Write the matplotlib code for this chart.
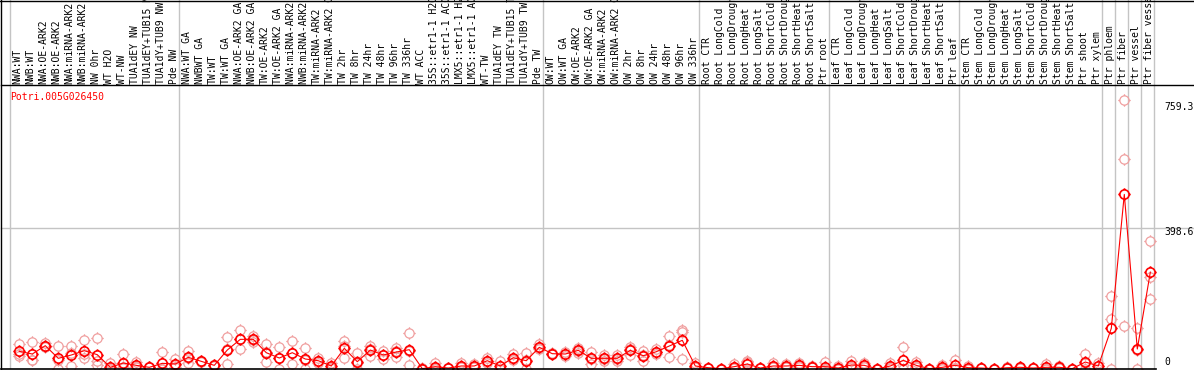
import numpy as np
import matplotlib
matplotlib.use("Agg")
import matplotlib.pyplot as plt
from matplotlib.path import Path
from matplotlib.lines import Line2D

gene = "Potri.005G026450"

samples = [
    "NWA:WT", "NWB:WT", "NWA:OE-ARK2", "NWB:OE-ARK2", "NWA:miRNA-ARK2", "NWB:miRNA-ARK2",
    "NW 0hr", "WT H2O", "WT-NW", "TUA1dEY NW", "TUA1dEY+TUB15 NW", "TUA1dY+TUB9 NW", "Pde NW",
    "NWA:WT GA", "NWBWT GA", "TW:WT", "TW:WT GA", "NWA:OE-ARK2 GA", "NWB:OE-ARK2 GA",
    "TW:OE-ARK2", "TW:OE-ARK2 GA", "NWA:miRNA-ARK2 GA", "NWB:miRNA-ARK2 GA", "TW:miRNA-ARK2",
    "TW:miRNA-ARK2 GA", "TW 2hr", "TW 8hr", "TW 24hr", "TW 48hr", "TW 96hr", "TW 336hr",
    "WT ACC", "35S::etr1-1 H2O", "35S::etr1-1 ACC", "LMX5::etr1-1 H2O", "LMX5::etr1-1 ACC",
    "WT-TW", "TUA1dEY TW", "TUA1dEY+TUB15 TW", "TUA1dY+TUB9 TW", "Pde TW",
    "OW:WT", "OW:WT GA", "OW:OE-ARK2", "OW:OE-ARK2 GA", "OW:miRNA-ARK2", "OW:miRNA-ARK2 GA",
    "OW 2hr", "OW 8hr", "OW 24hr", "OW 48hr", "OW 96hr", "OW 336hr",
    "Root CTR", "Root LongCold", "Root LongDrought", "Root LongHeat", "Root LongSalt",
    "Root ShortCold", "Root ShortDrought", "Root ShortHeat", "Root ShortSalt", "Ptr root",
    "Leaf CTR", "Leaf LongCold", "Leaf LongDrought", "Leaf LongHeat", "Leaf LongSalt",
    "Leaf ShortCold", "Leaf ShortDrought", "Leaf ShortHeat", "Leaf ShortSalt", "Ptr leaf",
    "Stem CTR", "Stem LongCold", "Stem LongDrought", "Stem LongHeat", "Stem LongSalt",
    "Stem ShortCold", "Stem ShortDrought", "Stem ShortHeat", "Stem ShortSalt",
    "Ptr shoot", "Ptr xylem", "Ptr phloem", "Ptr fiber", "Ptr vessel", "Ptr fiber vessel",
]

# mean expression per sample
mean_expr = [
    49.9, 42.3, 65.8, 30.1, 39.5, 51.7, 40.4, 4.7, 16.9, 10.3, 4.7, 16.0, 14.1,
    32.9, 21.6, 10.3, 53.6, 83.7, 83.7, 46.0, 31.0, 46.0, 28.2, 23.4, 8.5,
    58.3, 20.6, 53.6, 39.5, 48.0, 54.5, 1.0, 6.6, 2.8, 8.5, 8.5,
    23.4, 8.5, 31.9, 23.4, 61.2,
    43.2, 42.3, 52.7, 30.1, 30.1, 30.1, 52.7, 37.5, 48.8, 64.9, 81.0, 8.5,
    3.7, 1.0, 6.6, 14.1, 2.8, 8.5, 8.5, 10.3, 6.6, 6.6,
    2.8, 11.3, 10.3, 0.5, 8.5, 24.4, 10.3, 1.0, 4.7, 10.3,
    3.7, 2.8, 1.0, 3.7, 4.7, 2.8, 4.7, 4.7, 1.0,
    19.7, 8.5, 114.8, 492.8, 56.4, 272.8,
]

# replicates
rep1 = [
    70.5, 75.3, 72.5, 64.9, 64.9, 81.8, 86.6, 17.8, 42.3, 20.6, 5.0, 48.0, 27.3,
    50.8, 20.0, 12.0, 91.2, 109.0, 93.0, 70.5, 63.0, 79.0, 58.3, 30.1, 17.8,
    79.0, 44.3, 65.8, 50.8, 60.1, 100.7, 1.5, 16.0, 3.0, 16.0, 14.0,
    30.0, 23.4, 42.3, 44.3, 69.6,
    45.0, 48.8, 60.0, 48.8, 39.5, 38.6, 63.0, 51.7, 56.4, 93.0, 110.0, 16.0,
    3.0, 1.2, 14.0, 23.4, 3.0, 16.0, 14.0, 16.0, 8.5, 20.6,
    8.5, 23.4, 16.0, 0.6, 17.8, 61.2, 20.6, 1.2, 11.3, 25.4,
    8.5, 3.0, 1.0, 6.6, 6.6, 3.0, 14.0, 8.5, 1.0,
    42.3, 17.8, 206.8, 759.3, 114.8, 361.0,
]
rep2 = [
    36.7, 25.0, 61.2, 0.0, 8.5, 31.9, 23.4, 0.0, 5.6, 5.0, 4.5, 0.0, 10.3,
    17.8, 23.0, 10.0, 14.1, 57.3, 81.8, 19.7, 0.0, 14.1, 0.0, 17.8, 4.0,
    31.9, 0.0, 37.5, 28.2, 32.9, 11.3, 0.8, 0.0, 2.6, 5.0, 6.0,
    22.0, 1.0, 27.3, 0.0, 58.3,
    42.0, 36.7, 46.0, 14.1, 23.4, 23.4, 39.5, 21.6, 41.4, 32.9, 27.3, 5.0,
    4.0, 0.9, 3.0, 0.0, 2.7, 5.0, 6.0, 8.0, 6.0, 0.0,
    0.0, 5.0, 8.0, 0.5, 4.0, 0.0, 5.0, 0.9, 1.6, 3.0,
    1.3, 3.0, 1.0, 2.5, 4.0, 3.0, 0.0, 3.0, 1.0,
    0.0, 0.0, 141.0, 591.5, 54.4, 258.7,
]
rep3 = [
    42.5, 26.6, 63.7, 25.4, 45.1, 41.4, 11.2, 0.0, 3.0, 5.3, 4.6, 0.0, 4.7,
    30.1, 21.8, 9.0, 55.5, 84.8, 76.3, 47.8, 30.0, 45.0, 26.3, 22.3, 3.7,
    64.0, 17.5, 57.5, 39.5, 51.0, 51.5, 0.7, 3.8, 2.8, 4.5, 5.5,
    18.2, 1.1, 26.1, 25.9, 55.7,
    42.6, 41.4, 52.1, 27.4, 27.4, 28.3, 55.6, 39.2, 48.6, 68.8, 105.7, 4.5,
    4.1, 0.9, 2.8, 18.9, 2.7, 4.5, 5.5, 6.9, 5.3, 0.0,
    0.0, 5.5, 6.9, 0.4, 3.7, 12.0, 5.3, 0.9, 1.2, 2.5,
    1.3, 2.4, 1.0, 2.0, 3.5, 2.4, 0.1, 2.6, 1.0,
    16.8, 7.7, 0.0, 121.3, 0.0, 197.5,
]

# group boundaries (index of first sample after the line)
group_edges = [0, 13, 41, 53, 63, 73, 84, 85, 86, 87, 88]
ref_lines = [398.6]
axis_labels = ["759.3", "398.6", "0"]

W, H = 1194, 370
fig = plt.figure(figsize=(W / 100, H / 100), dpi=100)


def fx(p):
    return p / W


def fy(p):
    return 1 - p / H


# pixel layout of the original
x_col0, col_w = 19.3, 13.0
x_left, x_right = 1, 1156
y_top, y_sep, y_bot = 0, 85, 369

xlim = ((x_left - x_col0) / col_w, (x_right - x_col0) / col_w)
ymax = 759.3 * (y_bot - y_sep) / (y_bot - 100.0)

ax = fig.add_axes([fx(x_left), fy(y_bot), fx(x_right) - fx(x_left), fy(y_sep) - fy(y_bot)])
lab = fig.add_axes([fx(x_left), fy(y_sep), fx(x_right) - fx(x_left), fy(y_top) - fy(y_sep)])

x = np.arange(len(samples))

# marker: ring with four little ticks
circ = Path.unit_circle()
ticks = Path([(0, 1), (0, 1.35), (0, -1), (0, -1.35), (1, 0), (1.35, 0), (-1, 0), (-1.35, 0)],
             [Path.MOVETO, Path.LINETO] * 4)
ring = Path.make_compound_path(circ, ticks)

grid_c = "#c4c4c4"
for a in (ax, lab):
    for k in group_edges:
        a.axvline(k - 0.715, color=grid_c, lw=1.0, zorder=0)
    a.set_xlim(*xlim)

ax.axhline(ref_lines[0], xmin=0, xmax=(W - x_left) / (x_right - x_left), color=grid_c,
           lw=1.0, zorder=0, clip_on=False)

for r in (rep1, rep2, rep3):
    ax.plot(x, r, ls="none", marker=ring, ms=9, mfc="none", mec="#f0a0a0", mew=0.9, zorder=2)
ax.plot(x, mean_expr, color="#ff0000", lw=0.8, marker=ring, ms=9, mfc="none",
        mec="#ff0000", mew=1.2, zorder=3)

ax.set_ylim(0, ymax)
ax.set_xticks([])
ax.set_yticks([])
for s in ax.spines.values():
    s.set_visible(False)
ax.patch.set_alpha(0)

lab.set_ylim(y_sep, y_top)
lab.axis("off")
for i, s in enumerate(samples):
    lab.text(i - 0.12, y_sep - 1.5, s, rotation=90, ha="center", va="bottom",
             family="DejaVu Sans Mono", fontsize=7, color="black")

# frame lines
fig.add_artist(Line2D([0, 1], [fy(0.5), fy(0.5)], color="black", lw=1))
fig.add_artist(Line2D([fx(x_left), 1], [fy(y_sep), fy(y_sep)], color="black", lw=1))
fig.add_artist(Line2D([fx(x_left), fx(x_left)], [fy(y_bot), 1], color="black", lw=1))
fig.add_artist(Line2D([fx(x_left), fx(x_right)], [fy(y_bot), fy(y_bot)], color="black", lw=1.2))

fig.text(fx(10), fy(97), gene, color="#ff0000", family="DejaVu Sans Mono", fontsize=7,
         ha="left", va="center")
for txt, yp in zip(axis_labels, [107, 232, 362]):
    fig.text(fx(1164), fy(yp), txt, color="black", family="DejaVu Sans Mono", fontsize=7,
             ha="left", va="center")

fig.savefig("out.png", dpi=100)
